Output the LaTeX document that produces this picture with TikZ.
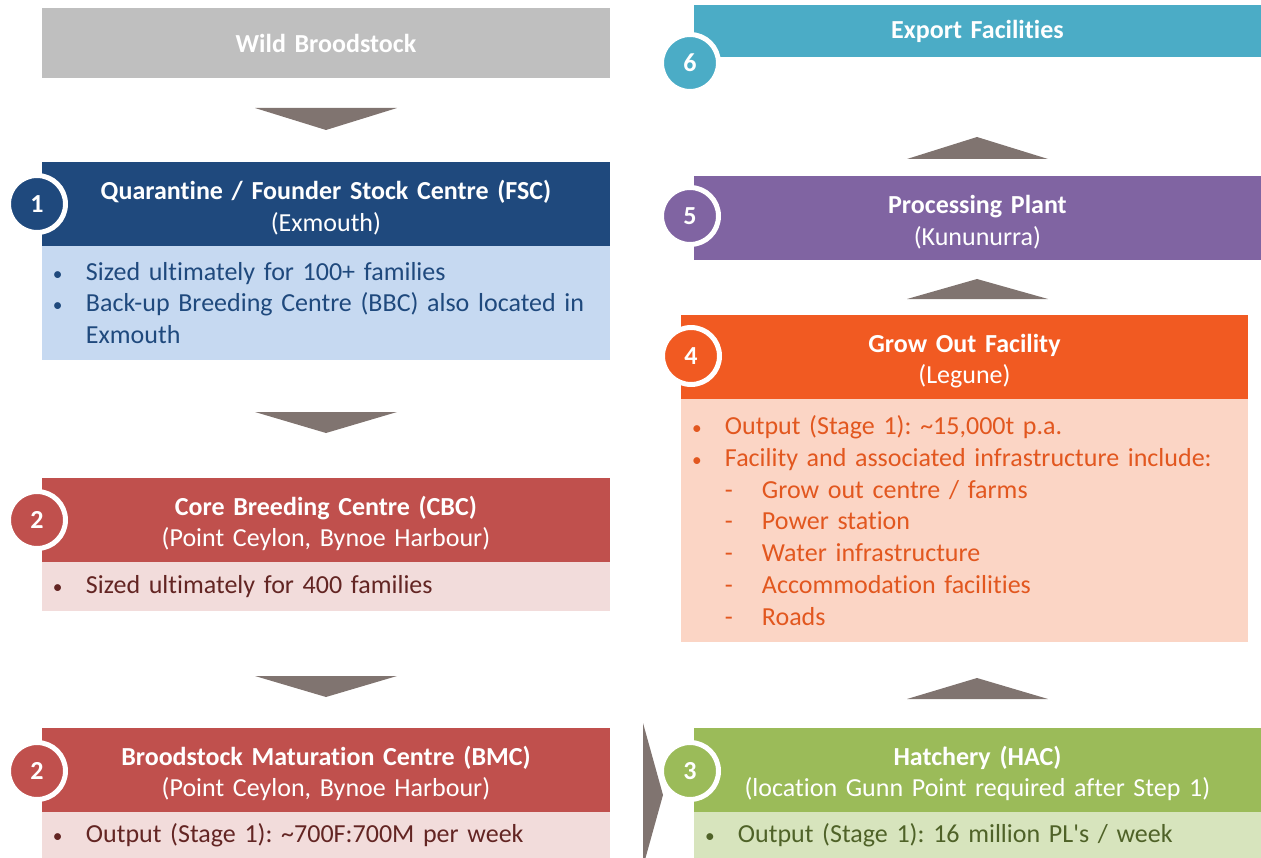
\documentclass[tikz,border=0pt]{standalone}
\usepackage{fontspec}
\setmainfont{Carlito}[Ligatures={TeX,NoCommon}]
\frenchspacing

\definecolor{wildgray}{RGB}{191,191,191}
\definecolor{tricol}{RGB}{128,116,112}
\definecolor{fscblue}{RGB}{31,73,125}
\definecolor{fsclight}{RGB}{198,217,241}
\definecolor{bcred}{RGB}{192,80,77}
\definecolor{bclight}{RGB}{242,220,219}
\definecolor{bctext}{RGB}{99,37,35}
\definecolor{ppurple}{RGB}{128,100,162}
\definecolor{exteal}{RGB}{75,172,198}
\definecolor{goorange}{RGB}{241,90,34}
\definecolor{golight}{RGB}{251,213,197}
\definecolor{gotext}{RGB}{226,87,31}
\definecolor{hacgreen}{RGB}{155,187,89}
\definecolor{haclight}{RGB}{215,228,189}
\definecolor{hactext}{RGB}{79,98,40}

% header text, bullet and dash lines of the bodies
\newcommand{\hd}[2]{\rule{0pt}{15pt}\textbf{#1}\\#2}
\newcommand{\itm}[1]{\makebox[0.88cm][l]{\hspace{0.22cm}{\fontsize{11}{11}\selectfont\textbullet}}#1}
\newcommand{\subitm}[1]{\hspace{0.88cm}\makebox[0.74cm][l]{-}#1}

\begin{document}
\begin{tikzpicture}[x=0.02cm,y=-0.02cm,
    every node/.style={inner sep=0pt,outer sep=0pt,font=\fontsize{14.8}{18.1}\selectfont},
    head/.style={anchor=north west,align=center,text=white,text width=11.36cm,minimum height=1.68cm},
    body/.style={anchor=north west,align=left,text width=11.36cm},
    numcirc/.style={circle,draw=white,line width=0.1cm,minimum size=1.14cm,text=white,font=\fontsize{14.8}{18.1}\selectfont\bfseries},
    tri/.style={fill=tricol}]
  \useasboundingbox (0,0) rectangle (1261,858);
  \clip (0,0) rectangle (1261,858);

  % left column
  \node[head,fill=wildgray,minimum height=1.4cm,font=\fontsize{14.8}{18.1}\selectfont\bfseries] (wild) at (42,8) {Wild Broodstock};
  \node[head,fill=fscblue] (fsc) at (42,162) {\hd{Quarantine / Founder Stock Centre (FSC)}{(Exmouth)}};
  \node[body,fill=fsclight,text=fscblue,minimum height=2.28cm] (fscbody) at (fsc.south west)
    {\itm{Sized ultimately for 100+ families}\\
     \itm{Back-up Breeding Centre (BBC) also located in}\\
     \hspace{0.88cm}Exmouth};
  \node[head,fill=bcred] (cbc) at (42,478) {\hd{Core Breeding Centre (CBC)}{(Point Ceylon, Bynoe Harbour)}};
  \node[body,fill=bclight,text=bctext,minimum height=0.98cm] (cbcbody) at (cbc.south west)
    {\itm{Sized ultimately for 400 families}};
  \node[head,fill=bcred] (bmc) at (42,728) {\hd{Broodstock Maturation Centre (BMC)}{(Point Ceylon, Bynoe Harbour)}};
  \node[body,fill=bclight,text=bctext,minimum height=0.92cm] (bmcbody) at (bmc.south west)
    {\itm{Output (Stage 1): \textasciitilde700F:700M per week}};

  % right column
  \node[head,fill=exteal,text width=11.34cm,minimum height=1.04cm,font=\fontsize{14.8}{18.1}\selectfont\bfseries] (exp) at (694,5) {Export Facilities};
  \node[head,fill=ppurple,text width=11.34cm] (proc) at (694,176) {\hd{Processing Plant}{(Kununurra)}};
  \node[head,fill=goorange,text width=11.34cm] (grow) at (681,315) {\hd{Grow Out Facility}{(Legune)}};
  \node[body,fill=golight,text=gotext,text width=11.34cm,minimum height=4.86cm] (growbody) at (grow.south west)
    {\itm{Output (Stage 1): \textasciitilde15,000t p.a.}\\
     \itm{Facility and associated infrastructure include:}\\
     \subitm{Grow out centre / farms}\\
     \subitm{Power station}\\
     \subitm{Water infrastructure}\\
     \subitm{Accommodation facilities}\\
     \subitm{Roads}};
  \node[head,fill=hacgreen,text width=11.34cm] (hac) at (694,728) {\hd{Hatchery (HAC)}{(location Gunn Point required after Step 1)}};
  \node[body,fill=haclight,text=hactext,text width=11.34cm,minimum height=0.92cm] (hacbody) at (hac.south west)
    {\itm{Output (Stage 1): 16 million PL\textquotesingle s / week}};

  % chevrons
  \fill[tri] (255,108) -- (397,108) -- (326,130) -- cycle;
  \fill[tri] (255,412) -- (397,412) -- (326,433) -- cycle;
  \fill[tri] (255,676) -- (397,676) -- (326,697) -- cycle;
  \fill[tri] (907,159) -- (1048,159) -- (977,137) -- cycle;
  \fill[tri] (907,299) -- (1048,299) -- (977,279) -- cycle;
  \fill[tri] (907,699) -- (1048,699) -- (977,678) -- cycle;
  \fill[tri] (643,723) -- (663,795) -- (643,867) -- cycle;

  % step numbers
  \node[numcirc,fill=fscblue] (n1) at (37,204) {1};
  \node[numcirc,fill=bcred] (n2a) at (37,520) {2};
  \node[numcirc,fill=bcred] (n2b) at (37,771) {2};
  \node[numcirc,fill=hacgreen] (n3) at (690,771) {3};
  \node[numcirc,fill=goorange] (n4) at (691,356) {4};
  \node[numcirc,fill=ppurple] (n5) at (690,216) {5};
  \node[numcirc,fill=exteal] (n6) at (690,63) {6};
\end{tikzpicture}
\end{document}
